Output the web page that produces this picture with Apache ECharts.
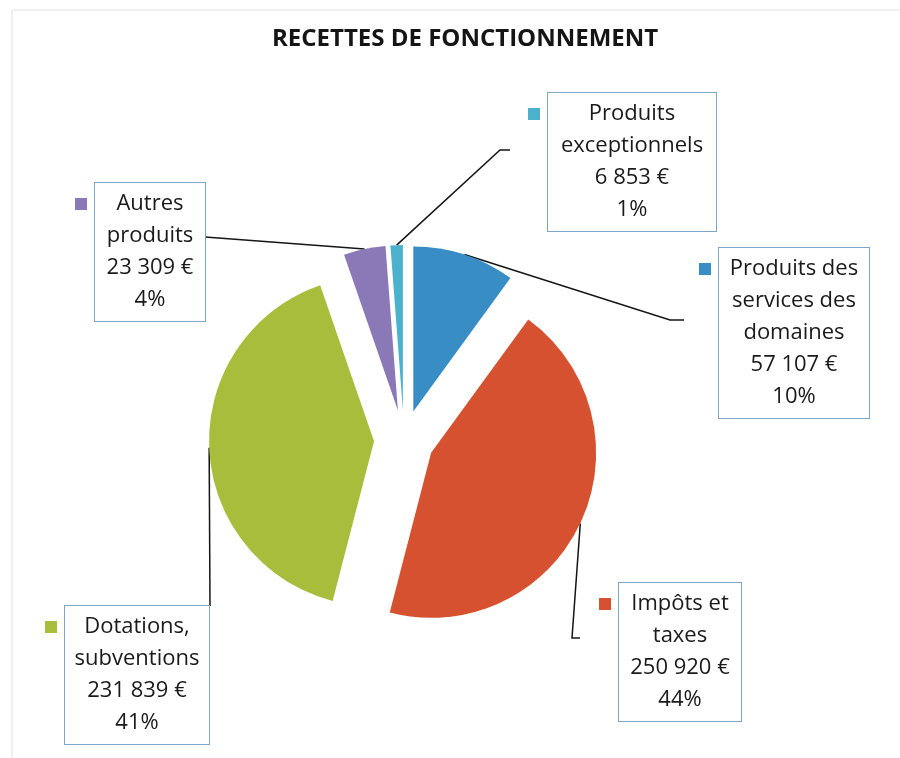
<!DOCTYPE html>
<html><head><meta charset="utf-8">
<script src="https://cdn.jsdelivr.net/npm/echarts@6/dist/echarts.min.js"></script>
<style>html,body{margin:0;padding:0;background:#fff}#c{width:900px;height:758px}</style>
</head><body><div id="c"></div>
<script>
// ---- data ----
const categories = ['Produits des services des domaines', 'Impôts et taxes', 'Dotations, subventions', 'Autres produits', 'Produits exceptionnels'];
const labelNames = ['Produits des\nservices des\ndomaines', 'Impôts et\ntaxes', 'Dotations,\nsubventions', 'Autres\nproduits', 'Produits\nexceptionnels'];
const values = [57107, 250920, 231839, 23309, 6853];
const chartTitle = 'RECETTES DE FONCTIONNEMENT';

// ---- style / layout ----
const colors = ['#388dc5', '#d5512f', '#a9bd3d', '#8b79b7', '#4bb1cd'];
const PIE_CX = 404, PIE_CY = 440, PIE_R = 165, EXPLODE = 30;
const boxes = [
  { cx: 794, top: 248, w: 150, bend: [670, 320], end: [684, 320] },
  { cx: 680, top: 583, w: 122, bend: [572, 638], end: [580, 638] },
  { cx: 137, top: 606, w: 144, bend: null, end: [210, 606] },
  { cx: 150, top: 183, w: 110, bend: null, end: [205, 237] },
  { cx: 632, top: 93, w: 168, bend: [500, 150], end: [510, 150] }
];
const FONT = '"Open Sans", "Noto Sans", sans-serif';
const PADX = 6;

const total = values.reduce((a, b) => a + b, 0);
let acc = 0;
const midAngles = values.map(v => { const m = (acc + v / 2) / total * 2 * Math.PI; acc += v; return m; });

function fmtNum(v) { return String(v).replace(/\B(?=(\d{3})+(?!\d))/g, ' '); }

const chart = echarts.init(document.getElementById('c'), null, { renderer: 'canvas' });

const legends = categories.map((name, i) => {
  const b = boxes[i];
  return {
    data: [{ name: name, itemStyle: { color: colors[i] } }],
    left: b.cx - b.w / 2 - 20, top: b.top + 15, padding: 0,
    itemWidth: 12, itemHeight: 12, icon: 'rect', selectedMode: false,
    formatter: () => '', textStyle: { fontSize: 1 }
  };
});

// one pie per slice, each one shifted outwards along its own bisector (exploded pie)
const series = categories.map((_, k) => {
  const m = midAngles[k];
  return {
    type: 'pie',
    silent: true,
    center: [PIE_CX + EXPLODE * Math.sin(m), PIE_CY - EXPLODE * Math.cos(m)],
    radius: PIE_R,
    startAngle: 90,
    clockwise: true,
    avoidLabelOverlap: false,
    emphasis: { disabled: true },
    data: categories.map((name, i) => i === k ? {
      name: name, value: values[i],
      itemStyle: { color: colors[i] },
      label: { show: true, width: boxes[i].w - 2 * PADX },
      labelLine: { show: true }
    } : {
      name: name, value: values[i],
      itemStyle: { color: 'rgba(0,0,0,0)' },
      label: { show: false }, labelLine: { show: false }
    }),
    label: {
      position: 'outside',
      formatter: p => labelNames[p.dataIndex] + '\n' + fmtNum(p.value) + ' €\n' + Math.round(p.percent) + '%',
      fontFamily: FONT, fontSize: 22, lineHeight: 32, color: '#1a1a1a',
      backgroundColor: '#ffffff', borderColor: '#7ea6cb', borderWidth: 1,
      padding: [5, PADX], align: 'center'
    },
    labelLine: { lineStyle: { color: '#151515', width: 1.5 } },
    labelLayout: function (params) {
      const i = params.dataIndex, b = boxes[i], mi = midAngles[i];
      const d = PIE_R + EXPLODE;
      const start = [PIE_CX + d * Math.sin(mi), PIE_CY - d * Math.cos(mi)];
      const pts = b.bend ? [start, b.bend, b.end] : [start, b.end, b.end];
      return { x: b.cx, y: b.top, align: 'center', verticalAlign: 'top', labelLinePoints: pts };
    }
  };
});

chart.setOption({
  animation: false,
  backgroundColor: '#ffffff',
  graphic: [{
    type: 'rect', silent: true, z: -10,
    shape: { x: 12, y: 10, width: 1000, height: 1000 },
    style: { fill: 'none', stroke: '#e4e1da', lineWidth: 1 }
  }],
  title: {
    text: chartTitle, left: 267, top: 22,
    textStyle: { fontFamily: FONT, fontSize: 24, fontWeight: 'bold', color: '#151515' }
  },
  legend: legends,
  series: series
});
</script></body></html>
